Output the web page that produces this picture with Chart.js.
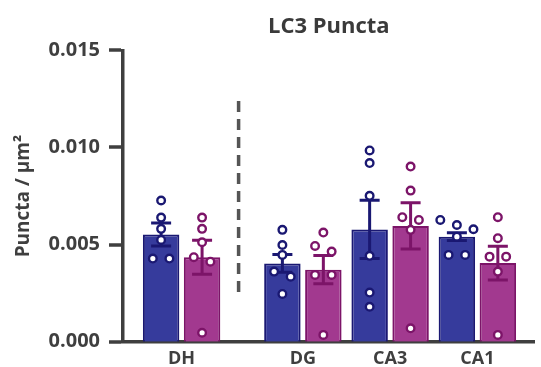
<!DOCTYPE html>
<html>
<head>
<meta charset="utf-8">
<script src="https://cdn.jsdelivr.net/npm/chart.js@4"></script>
<style>
  html, body { margin: 0; padding: 0; background: #ffffff; }
  #wrap { width: 541px; height: 367px; }
</style>
</head>
<body>
<div id="wrap"><canvas id="c" width="541" height="367"></canvas></div>
<script>
// ---------- data ----------
const categories = ['DH', 'DG', 'CA3', 'CA1'];
const seriesNames = ['Group 1', 'Group 2'];

const blueMeans = [0.00552, 0.00403, 0.00578, 0.00541];
const blueSem   = [0.00059, 0.00046, 0.00150, 0.00020];
const pinkMeans = [0.00435, 0.00371, 0.00596, 0.00405];
const pinkSem   = [0.00088, 0.00073, 0.00119, 0.00087];

const bluePoints = [
  [0.00727, 0.00639, 0.00581, 0.00524, 0.00428, 0.00428],
  [0.00576, 0.00498, 0.00447, 0.00361, 0.00335, 0.00246],
  [0.00985, 0.00920, 0.00751, 0.00442, 0.00253, 0.00180],
  [0.00627, 0.00601, 0.00579, 0.00541, 0.00447, 0.00447]
];
const pinkPoints = [
  [0.00639, 0.00581, 0.00512, 0.00435, 0.00412, 0.00046],
  [0.00562, 0.00493, 0.00464, 0.00344, 0.00344, 0.00035],
  [0.00902, 0.00778, 0.00641, 0.00627, 0.00576, 0.00069],
  [0.00641, 0.00533, 0.00438, 0.00438, 0.00361, 0.00035]
];

const yTicks = [0, 0.005, 0.010, 0.015];
const chartTitle = 'LC3 Puncta';
const yTitle = 'Puncta / µm²';

// ---------- layout constants ----------
const FIRST_GAP = 1.39;        // DH is set apart from the hippocampal subregions
const CAT_PCT = 0.939;
const BAR_PCT = 0.89;
const ROW_THRESHOLD = 0.0005;  // values closer than this share a scatter row
const ROW_STEP = 0.19;         // horizontal spacing of points in a row (x units)

const xs = categories.map((c, i) => i === 0 ? 0 : FIRST_GAP + (i - 1));
const dividerX = xs[0] + 0.47 * (xs[1] - xs[0]);

const BLUE_FILL = '#363b9c', BLUE_DARK = '#1a1872';
const PINK_FILL = '#a2398f', PINK_DARK = '#7c1468';
const AXIS = '#3f3f3f';

// scatter layout: points of similar value are spread into a centred row
function swarm(values, center) {
  const order = values.map((v, i) => i).sort((a, b) => values[b] - values[a]);
  const out = [];
  let row = [];
  const flush = () => {
    row.forEach((idx, k) => {
      out.push({ x: center + (k - (row.length - 1) / 2) * ROW_STEP, y: values[idx] });
    });
    row = [];
  };
  order.forEach(idx => {
    if (row.length && values[row[0]] - values[idx] > ROW_THRESHOLD) flush();
    row.push(idx);
  });
  flush();
  return out;
}

const side = CAT_PCT / 4;
const blueScatter = [].concat(...bluePoints.map((p, i) => swarm(p, xs[i] - side)));
const pinkScatter = [].concat(...pinkPoints.map((p, i) => swarm(p, xs[i] + side)));

const errorBarPlugin = {
  id: 'errorBars',
  afterDatasetDraw(chart, args) {
    const ds = chart.data.datasets[args.index];
    if (!ds.errors) return;
    const ctx = chart.ctx;
    const y = chart.scales.y;
    ctx.save();
    ctx.strokeStyle = ds.errorColor;
    ctx.lineWidth = 3;
    ctx.lineCap = 'butt';
    args.meta.data.forEach((bar, i) => {
      const m = ds.data[i].y, e = ds.errors[i];
      const x = bar.x;
      const yt = y.getPixelForValue(m + e), yb = y.getPixelForValue(m - e);
      const half = 10;
      ctx.beginPath();
      ctx.moveTo(x, yt); ctx.lineTo(x, yb);
      ctx.moveTo(x - half, yt); ctx.lineTo(x + half, yt);
      ctx.moveTo(x - half, yb); ctx.lineTo(x + half, yb);
      ctx.stroke();
    });
    ctx.restore();
  }
};

const dividerPlugin = {
  id: 'divider',
  beforeDatasetsDraw(chart) {
    const ctx = chart.ctx;
    const x = chart.scales.x.getPixelForValue(dividerX);
    const y1 = chart.scales.y.getPixelForValue(0.0126);
    const y2 = chart.scales.y.getPixelForValue(0.00225);
    ctx.save();
    ctx.strokeStyle = '#555555';
    ctx.lineWidth = 3.5;
    ctx.setLineDash([11, 7]);
    ctx.lineDashOffset = 14;
    ctx.beginPath();
    ctx.moveTo(x, y1); ctx.lineTo(x, y2);
    ctx.stroke();
    ctx.restore();
  }
};

Chart.defaults.font.family = "'Open Sans', sans-serif";
Chart.defaults.color = AXIS;

new Chart(document.getElementById('c'), {
  type: 'bar',
  data: {
    datasets: [
      {
        type: 'bar', label: seriesNames[0],
        data: xs.map((x, i) => ({ x: x, y: blueMeans[i] })),
        errors: blueSem, errorColor: BLUE_DARK,
        backgroundColor: BLUE_FILL, borderColor: BLUE_DARK, borderWidth: 2,
        barPercentage: BAR_PCT, categoryPercentage: CAT_PCT, order: 2
      },
      {
        type: 'bar', label: seriesNames[1],
        data: xs.map((x, i) => ({ x: x, y: pinkMeans[i] })),
        errors: pinkSem, errorColor: PINK_DARK,
        backgroundColor: PINK_FILL, borderColor: PINK_DARK, borderWidth: 2,
        barPercentage: BAR_PCT, categoryPercentage: CAT_PCT, order: 2
      },
      {
        type: 'scatter', label: seriesNames[0] + ' points', data: blueScatter,
        pointRadius: 3.8, pointBorderWidth: 2.4, pointBackgroundColor: '#ffffff',
        pointBorderColor: BLUE_DARK, showLine: false, order: 1
      },
      {
        type: 'scatter', label: seriesNames[1] + ' points', data: pinkScatter,
        pointRadius: 3.8, pointBorderWidth: 2.4, pointBackgroundColor: '#ffffff',
        pointBorderColor: PINK_DARK, showLine: false, order: 1
      }
    ]
  },
  options: {
    responsive: false,
    animation: false,
    layout: { padding: { left: 0, right: 0, top: 0, bottom: 0 } },
    plugins: {
      legend: { display: false },
      tooltip: { enabled: false },
      title: {
        display: true, text: chartTitle, fullSize: false,
        color: '#3a3a3a', font: { size: 22, weight: 'bold' },
        padding: { top: 14, bottom: 10 }
      }
    },
    scales: {
      x: {
        type: 'linear', offset: false,
        min: -0.6716, max: 4.046,
        afterBuildTicks: (s) => { s.ticks = xs.map(v => ({ value: v })); },
        afterFit: (s) => { s.height = 25.3; },
        ticks: {
          autoSkip: false, maxRotation: 0, padding: 6,
          color: AXIS, font: { size: 18, weight: 'bold' },
          callback: (v) => { const i = xs.findIndex(x => Math.abs(x - v) < 1e-6); return i >= 0 ? categories[i] : ''; }
        },
        grid: { display: false, drawTicks: false },
        border: { display: true, color: AXIS, width: 3.5 }
      },
      y: {
        min: 0, max: 0.015,
        afterBuildTicks: (s) => { s.ticks = yTicks.map(v => ({ value: v })); },
        afterFit: (s) => { s.width = 123; },
        ticks: {
          padding: 9, color: AXIS, font: { size: 20, weight: 'bold' },
          callback: (v) => v.toFixed(3)
        },
        grid: { drawOnChartArea: false, drawTicks: true, tickLength: 14, tickWidth: 3.5, tickColor: AXIS, lineWidth: 0 },
        border: { display: true, color: AXIS, width: 3.5 },
        title: {
          display: true, text: yTitle, color: AXIS,
          font: { size: 19, weight: 'bold' }, padding: { top: 12, bottom: 0 }
        }
      }
    }
  },
  plugins: [errorBarPlugin, dividerPlugin]
});
</script>
</body>
</html>
